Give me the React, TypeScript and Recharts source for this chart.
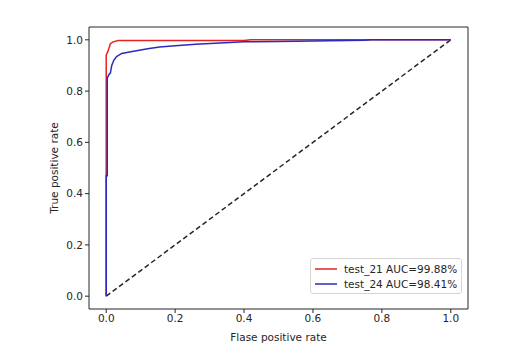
import {
  Line,
  LineChart,
  XAxis,
  YAxis,
  ReferenceArea,
} from "recharts";

const ticks = [0, 0.2, 0.4, 0.6, 0.8, 1.0];

const redName = "test_21 AUC=99.88%";
const redFpr = [0, 0, 0.005, 0.012, 0.02, 0.035, 0.4, 0.42, 1];
const redTpr = [0, 0.94, 0.955, 0.985, 0.992, 0.997, 0.997, 1, 1];

const blueName = "test_24 AUC=98.41%";
const blueFpr = [
  0, 0, 0.003, 0.003, 0.008, 0.012, 0.016, 0.022, 0.03, 0.045, 0.075, 0.1,
  0.12, 0.155, 0.2, 0.26, 0.33, 0.4, 0.5, 0.6, 0.75, 0.77, 1,
];
const blueTpr = [
  0, 0.47, 0.47, 0.85, 0.865, 0.87, 0.9, 0.92, 0.935, 0.947, 0.954, 0.96,
  0.965, 0.972, 0.977, 0.983, 0.988, 0.992, 0.993, 0.995, 0.998, 1, 1,
];

const chanceFpr = [0, 1];
const chanceTpr = [0, 1];

const RED = "#e32222";
const BLUE = "#2b2bbd";
const INK = "#262626";
const FONT = "'DejaVu Sans', sans-serif";
const FS = 10.5;

const toPoints = (xs: number[], ys: number[]) =>
  xs.map((x, i) => ({ x, y: ys[i] }));

const redData = toPoints(redFpr, redTpr);
const blueData = toPoints(blueFpr, blueTpr);
const chanceData = toPoints(chanceFpr, chanceTpr);

function LegendBox() {
  const rows = [
    { name: redName, color: RED },
    { name: blueName, color: BLUE },
  ];
  return (
    <div
      style={{
        position: "absolute",
        left: 310,
        top: 258,
        width: 152,
        boxSizing: "border-box",
        border: "1px solid #d6d6d6",
        borderRadius: 3,
        background: "rgba(255,255,255,0.85)",
        padding: "2px 4px",
        fontFamily: FONT,
        fontSize: FS,
        color: INK,
      }}
    >
      {rows.map((r) => (
        <div
          key={r.name}
          style={{ display: "flex", alignItems: "center", height: 15 }}
        >
          <svg width={22} height={4} style={{ marginRight: 7, flex: "none" }}>
            <line x1={0} y1={2} x2={22} y2={2} stroke={r.color} strokeWidth={1.5} />
          </svg>
          <span style={{ whiteSpace: "nowrap" }}>{r.name}</span>
        </div>
      ))}
    </div>
  );
}

export default function App() {
  const fmt = (v: number) => v.toFixed(1);
  return (
    <div
      style={{
        position: "fixed",
        left: 0,
        top: 0,
        width: 529,
        height: 364,
        background: "#fff",
      }}
    >
      <LineChart
        width={529}
        height={364}
        margin={{ top: 27, right: 61, left: 49, bottom: 25 }}
      >
        <XAxis
          type="number"
          dataKey="x"
          domain={[-0.05, 1.05]}
          ticks={ticks}
          tickFormatter={fmt}
          allowDuplicatedCategory={false}
          height={30}
          tickSize={4}
          axisLine={false}
          tickLine={{ stroke: INK }}
          tick={{ fill: INK, fontSize: FS, fontFamily: FONT }}
          label={{
            value: "Flase positive rate",
            position: "insideBottom",
            offset: -2,
            fill: INK,
            fontSize: FS,
            fontFamily: FONT,
          }}
        />
        <YAxis
          type="number"
          dataKey="y"
          domain={[-0.05, 1.05]}
          ticks={ticks}
          tickFormatter={fmt}
          width={40}
          tickSize={4}
          axisLine={false}
          tickLine={{ stroke: INK }}
          tick={{ fill: INK, fontSize: FS, fontFamily: FONT }}
          label={{
            value: "True positive rate",
            angle: -90,
            position: "insideLeft",
            offset: 5,
            style: { textAnchor: "middle" },
            fill: INK,
            fontSize: FS,
            fontFamily: FONT,
          }}
        />
        <ReferenceArea
          x1={-0.05}
          x2={1.05}
          y1={-0.05}
          y2={1.05}
          fill="none"
          stroke={INK}
          strokeWidth={1}
          fillOpacity={0}
        />
        <Line
          data={chanceData}
          dataKey="y"
          type="linear"
          stroke={INK}
          strokeWidth={1.5}
          strokeDasharray="5 3"
          dot={false}
          legendType="none"
          isAnimationActive={false}
        />
        <Line
          data={redData}
          dataKey="y"
          name={redName}
          type="linear"
          stroke={RED}
          strokeWidth={1.5}
          dot={false}
          isAnimationActive={false}
        />
        <Line
          data={blueData}
          dataKey="y"
          name={blueName}
          type="linear"
          stroke={BLUE}
          strokeWidth={1.5}
          dot={false}
          isAnimationActive={false}
        />
      </LineChart>
      <LegendBox />
    </div>
  );
}
